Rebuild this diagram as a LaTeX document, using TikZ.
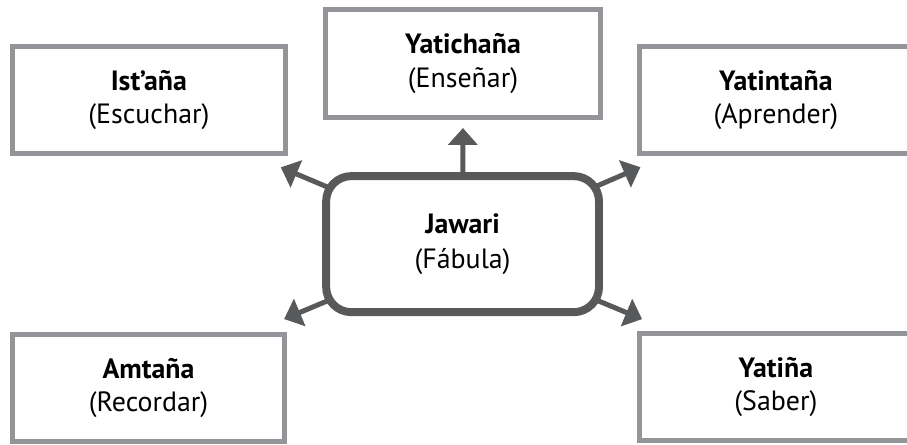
\documentclass[tikz,border=0pt]{standalone}
\usepackage{fontspec}
\setmainfont{PT Sans}
\usetikzlibrary{arrows.meta, positioning, backgrounds}
\definecolor{boxgray}{HTML}{939598}
\definecolor{jawgray}{HTML}{58595B}
\tikzset{
    wordbox/.style={draw=boxgray, line width=3.75pt, fill=white, minimum width=7.22cm, minimum height=2.83cm, align=center, font=\fontsize{21}{25}\selectfont},
    centerbox/.style={wordbox, draw=jawgray, line width=6pt, rounded corners=19pt, minimum height=3.6cm, font=\fontsize{21}{26}\selectfont},
    branch/.style={-{Triangle[length=12.75pt, width=21.75pt]}, draw=jawgray, fill=jawgray, line width=3.75pt}
}

\begin{document}
\begin{tikzpicture}
    \useasboundingbox (0,0) rectangle (24,11.75);
    % Outer boxes
    \node[wordbox] (ist) at (3.94,9.10) {\textbf{Ist’aña}\\(Escuchar)};
    \node[wordbox, minimum width=7.28cm, minimum height=2.86cm] (yati) at (12.25,10.07) {\textbf{Yatichaña}\\(Enseñar)};
    \node[wordbox] (yatin) at (20.53,9.10) {\textbf{Yatintaña}\\(Aprender)};
    \node[wordbox] (amt) at (3.93,1.49) {\textbf{Amtaña}\\(Recordar)};
    \node[wordbox] (yatina) at (20.53,1.51) {\textbf{Yatiña}\\(Saber)};
    % Center box
    \node[centerbox] (jaw) at (12.24,5.29) {\textbf{Jawari}\\(Fábula)};
    % Arrows, drawn under the center box
    \begin{scope}[on background layer]
        \draw[branch, shorten >=6pt] (jaw.center) -- (yati.south);
        \draw[branch, shorten >=21.75pt] (jaw.center) -- (ist.-28);
        \draw[branch, shorten >=21pt] (jaw.center) -- (yatin.207);
        \draw[branch, shorten >=24.75pt] (jaw.center) -- (amt.28);
        \draw[branch, shorten >=23.25pt] (jaw.center) -- (yatina.152);
    \end{scope}
\end{tikzpicture}
\end{document}
